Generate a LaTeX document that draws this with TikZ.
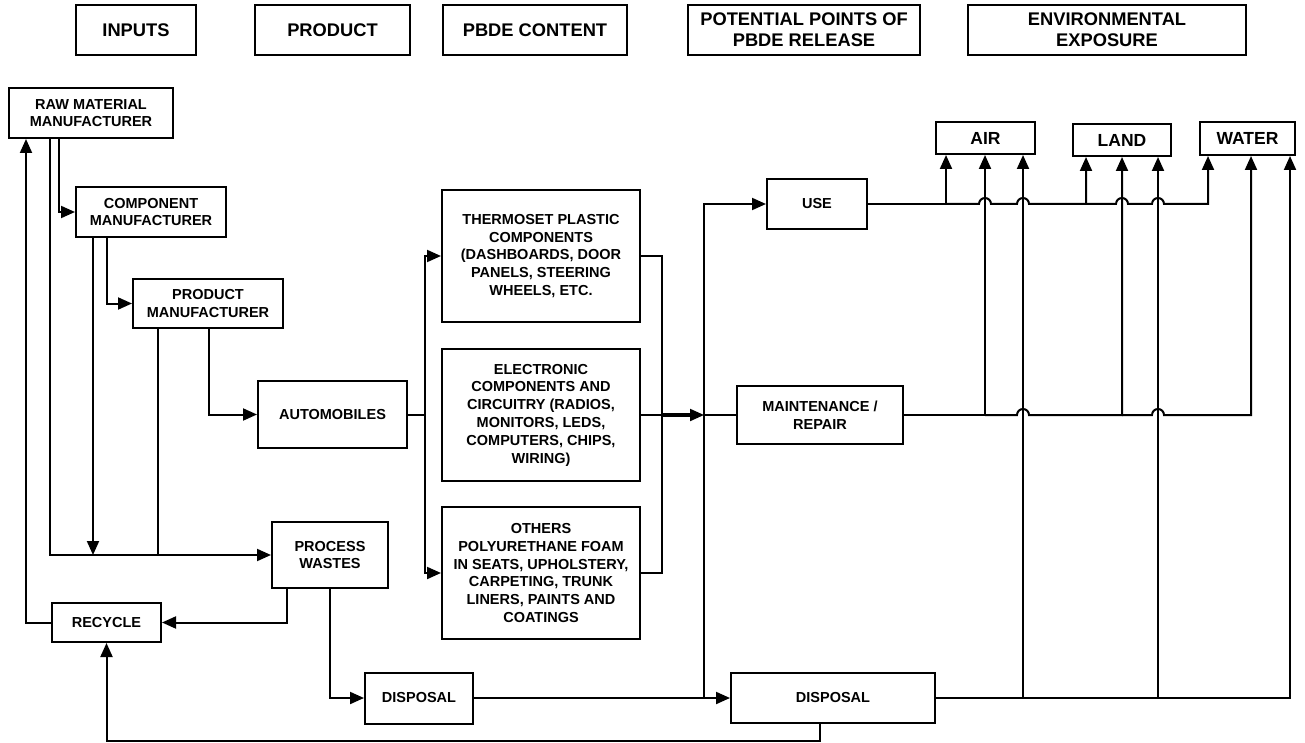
\documentclass[tikz,border=0pt]{standalone}
\usepackage{fontspec}
\setmainfont{Liberation Sans}
\usetikzlibrary{arrows.meta}

\tikzset{
  box/.style={draw, line width=2pt, align=center, inner sep=0pt,
    font=\fontsize{14.5}{17.8}\selectfont\bfseries},
  head/.style={box, font=\fontsize{18.3}{20.7}\selectfont\bfseries},
  media/.style={box, font=\fontsize{17.5}{20}\selectfont\bfseries},
  link/.style={line width=2pt},
  arr/.style={link, -{Triangle[length=14pt,width=12pt]}},
}

\begin{document}
\begin{tikzpicture}[x=1pt, y=-1pt]
    \useasboundingbox (0,0) rectangle (1305,743);

    % column headings
    \node[head, minimum width=120pt, minimum height=50pt] (hinputs) at (136,30) {INPUTS};
    \node[head, minimum width=155pt, minimum height=50pt] (hproduct) at (332.5,30) {PRODUCT};
    \node[head, minimum width=184pt, minimum height=50pt] (hcontent) at (535,30) {PBDE CONTENT};
    \node[head, minimum width=232pt, minimum height=50pt] (hrelease) at (804,30) {POTENTIAL POINTS OF\\PBDE RELEASE};
    \node[head, minimum width=278pt, minimum height=50pt] (hexposure) at (1107,30) {ENVIRONMENTAL\\EXPOSURE};

    % inputs
    \node[box, minimum width=164pt, minimum height=50pt] (raw) at (91,113) {RAW MATERIAL\\MANUFACTURER};
    \node[box, minimum width=150pt, minimum height=50pt] (comp) at (151,212) {COMPONENT\\MANUFACTURER};
    \node[box, minimum width=150pt, minimum height=49pt] (prod) at (208,303.5) {PRODUCT\\MANUFACTURER};
    \node[box, minimum width=116pt, minimum height=66pt] (waste) at (330,555) {PROCESS\\WASTES};
    \node[box, minimum width=109pt, minimum height=39pt] (recycle) at (106.5,622.5) {RECYCLE};
    \node[box, minimum width=108pt, minimum height=51pt] (disp1) at (419,698) {DISPOSAL};

    % product and content
    \node[box, minimum width=149pt, minimum height=67pt] (auto) at (332.5,414.5) {AUTOMOBILES};
    \node[box, minimum width=198pt, minimum height=132pt] (thermo) at (541,256) {THERMOSET PLASTIC\\COMPONENTS\\(DASHBOARDS, DOOR\\PANELS, STEERING\\WHEELS, ETC.};
    \node[box, minimum width=198pt, minimum height=132pt] (elec) at (541,415) {ELECTRONIC\\COMPONENTS AND\\CIRCUITRY (RADIOS,\\MONITORS, LEDS,\\COMPUTERS, CHIPS,\\WIRING)};
    \node[box, minimum width=198pt, minimum height=132pt] (others) at (541,573) {OTHERS\\POLYURETHANE FOAM\\IN SEATS, UPHOLSTERY,\\CARPETING, TRUNK\\LINERS, PAINTS AND\\COATINGS};

    % release points
    \node[box, minimum width=100pt, minimum height=50pt] (use) at (817,204) {USE};
    \node[box, minimum width=166pt, minimum height=58pt] (maint) at (820,415) {MAINTENANCE /\\REPAIR};
    \node[box, minimum width=204pt, minimum height=50pt] (disp2) at (833,698) {DISPOSAL};

    % exposure
    \node[media, minimum width=99pt, minimum height=32pt] (air) at (985.5,138) {AIR};
    \node[media, minimum width=98pt, minimum height=32pt] (land) at (1122,140) {LAND};
    \node[media, minimum width=95pt, minimum height=33pt] (water) at (1247.5,138.5) {WATER};

    % manufacturing chain
    \draw[arr] (raw.south -| 59,0) |- (comp.west);
    \draw[arr] (raw.south -| 50,0) |- (waste.west);
    \draw[arr] (comp.south -| 107,0) |- (prod.west);
    \draw[arr] (comp.south -| 93,0) -- (93,555);
    \draw[link] (prod.south -| 158,0) -- (158,555);
    \draw[arr] (prod.south -| 209,0) |- (auto.west);

    % wastes
    \draw[arr] (waste.south -| 287,0) |- (recycle.east);
    \draw[arr] (waste.south) |- (disp1.west);
    \draw[arr] (recycle.west) -| (raw.south -| 26,0);
    \draw[arr] (disp2.south -| 820,0) -- (820,741) -| (recycle.south);

    % automobile content
    \draw[link] (auto.east) -- (425,414.5);
    \draw[arr] (425,573) |- (thermo.west);
    \draw[arr] (425,414.5) |- (others.west);
    \draw[link] (thermo.east) -| (662,573) -- (others.east);
    \draw[arr] (elec.east) -- (704,415);
    \draw[line width=3.2pt] (662,415) -- (694,415);

    % release points
    \draw[arr] (disp2.west -| 704,0) |- (use.west);
    \draw[link] (704,415) -- (maint.west);
    \draw[arr] (disp1.east) -- (disp2.west);

    % use to air, land, water
    \draw[arr] (use.east) -| (air.south -| 946,0);
    \draw[arr] (946,204) -- (979,204) arc[start angle=180, end angle=360, radius=6]
        -- (1017,204) arc[start angle=180, end angle=360, radius=6]
        -- (1086,204) -- (land.south -| 1086,0);
    \draw[arr] (1086,204) -- (1116,204) arc[start angle=180, end angle=360, radius=6]
        -- (1152,204) arc[start angle=180, end angle=360, radius=6]
        -- (1208,204) -- (water.south -| 1208,0);

    % maintenance to air, land, water
    \draw[arr] (maint.east) -| (air.south -| 985,0);
    \draw[arr] (985,415) -- (1017,415) arc[start angle=180, end angle=360, radius=6]
        -- (1122,415) -- (land.south -| 1122,0);
    \draw[arr] (1122,415) -- (1152,415) arc[start angle=180, end angle=360, radius=6]
        -- (1251,415) -- (water.south -| 1251,0);

    % disposal to air, land, water
    \draw[arr] (disp2.east) -| (air.south -| 1023,0);
    \draw[arr] (1023,698) -| (land.south -| 1158,0);
    \draw[arr] (1158,698) -| (water.south -| 1290,0);
\end{tikzpicture}
\end{document}
